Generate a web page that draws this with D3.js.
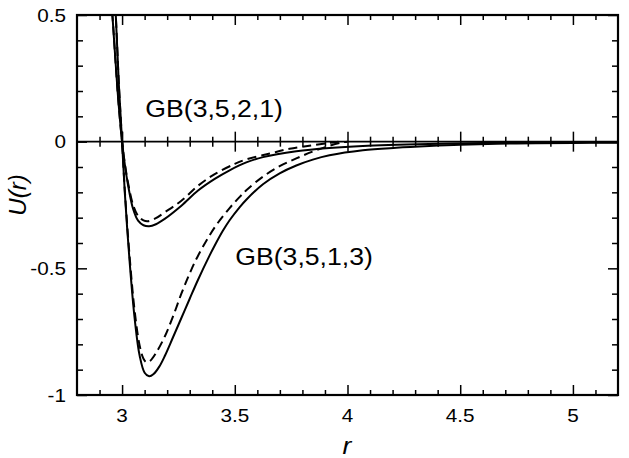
<!DOCTYPE html>
<html>
<head>
<meta charset="utf-8">
<script src="https://cdn.jsdelivr.net/npm/d3@7/dist/d3.min.js"></script>
<style>
  html, body { margin: 0; padding: 0; background: #fff; }
  svg { display: block; }
  text { font-family: "Liberation Sans", Arial, Helvetica, sans-serif; fill: #000; }
</style>
</head>
<body>
<svg id="chart" width="629" height="458"></svg>
<script>
// ---- data ----
const xTickValues = [3, 3.5, 4, 4.5, 5];
const xTickLabels = ["3", "3.5", "4", "4.5", "5"];
const yTickValues = [0.5, 0, -0.5, -1];
const yTickLabels = ["0.5", "0", "-0.5", "-1"];

// GB(3,5,1,3) solid
const rDeepSolid = [2.962, 2.972, 2.986, 3.0, 3.012, 3.034, 3.056, 3.078, 3.10, 3.12, 3.14, 3.165, 3.19, 3.226, 3.263, 3.30, 3.337, 3.389, 3.411, 3.447, 3.477, 3.522, 3.551, 3.625, 3.699, 3.773, 3.846, 3.92, 4.068, 4.216, 4.363, 4.5, 4.75, 5.0, 5.2];
const uDeepSolid = [0.65, 0.5, 0.22, 0.0, -0.20, -0.48, -0.70, -0.845, -0.912, -0.926, -0.917, -0.888, -0.845, -0.772, -0.696, -0.620, -0.545, -0.448, -0.410, -0.352, -0.310, -0.258, -0.229, -0.168, -0.125, -0.094, -0.071, -0.054, -0.034, -0.024, -0.017, -0.012, -0.007, -0.005, -0.004];

// GB(3,5,1,3) dashed
const rDeepDash = [2.962, 2.972, 2.986, 3.0, 3.012, 3.034, 3.056, 3.078, 3.095, 3.108, 3.125, 3.15, 3.189, 3.226, 3.263, 3.30, 3.337, 3.411, 3.477, 3.522, 3.551, 3.625, 3.699, 3.773, 3.846, 3.92, 3.98, 4.0];
const uDeepDash = [0.65, 0.5, 0.22, 0.0, -0.19, -0.46, -0.67, -0.805, -0.857, -0.871, -0.865, -0.835, -0.77, -0.69, -0.60, -0.52, -0.45, -0.338, -0.262, -0.218, -0.192, -0.138, -0.097, -0.066, -0.039, -0.016, -0.002, 0.0];

// GB(3,5,2,1) solid
const rShallowSolid = [2.945, 2.957, 2.98, 3.0, 3.012, 3.027, 3.049, 3.071, 3.095, 3.12, 3.15, 3.189, 3.263, 3.337, 3.411, 3.477, 3.551, 3.625, 3.773, 3.92, 4.068, 4.363, 4.6, 5.0, 5.2];
const uShallowSolid = [0.62, 0.5, 0.2, 0.0, -0.09, -0.174, -0.266, -0.312, -0.33, -0.334, -0.326, -0.305, -0.253, -0.193, -0.147, -0.113, -0.082, -0.061, -0.038, -0.025, -0.017, -0.009, -0.005, -0.003, -0.002];

// GB(3,5,2,1) dashed
const rShallowDash = [2.945, 2.957, 2.98, 3.0, 3.012, 3.027, 3.049, 3.071, 3.095, 3.115, 3.15, 3.189, 3.263, 3.337, 3.411, 3.5, 3.551, 3.655, 3.743, 3.839, 3.92, 3.96];
const uShallowDash = [0.62, 0.5, 0.2, 0.0, -0.085, -0.165, -0.25, -0.293, -0.311, -0.314, -0.302, -0.279, -0.233, -0.174, -0.128, -0.088, -0.070, -0.047, -0.028, -0.015, -0.005, 0.0];

const curveLabels = [
  { text: "GB(3,5,2,1)", r: 3.103, u: 0.096 },
  { text: "GB(3,5,1,3)", r: 3.502, u: -0.488 }
];

// ---- layout ----
const svg = d3.select("#chart");
const L = 77, T = 15, R = 618, B = 395;
const x = d3.scaleLinear().domain([2.8, 5.2]).range([L, R]);
const y = d3.scaleLinear().domain([-1, 0.5]).range([B, T]);

svg.append("defs").append("clipPath").attr("id", "clip")
  .append("rect").attr("x", L).attr("y", T).attr("width", R - L).attr("height", B - T);

const xMinor = d3.range(2.9, 5.2, 0.1).map(v => +v.toFixed(2)).filter(v => Math.abs(v * 2 - Math.round(v * 2)) > 1e-6);
const yMinor = d3.range(-0.9, 0.5, 0.1).map(v => +v.toFixed(2)).filter(v => Math.abs(v * 2 - Math.round(v * 2)) > 1e-6);

function drawAxis(axis, tx, ty) {
  const g = svg.append("g").attr("transform", `translate(${tx},${ty})`).call(axis);
  g.select(".domain").remove();
  g.selectAll("text").remove();
  g.selectAll("line").attr("stroke", "#000").attr("stroke-width", 1.5);
  return g;
}
// bottom
drawAxis(d3.axisTop(x).tickValues(xTickValues).tickSize(10), 0, B);
drawAxis(d3.axisTop(x).tickValues(xMinor).tickSize(5), 0, B);
// top
drawAxis(d3.axisBottom(x).tickValues(xTickValues).tickSize(10), 0, T);
drawAxis(d3.axisBottom(x).tickValues(xMinor).tickSize(5), 0, T);
// zero line crossing ticks
drawAxis(d3.axisTop(x).tickValues(xTickValues).tickSize(10), 0, y(0));
drawAxis(d3.axisBottom(x).tickValues(xTickValues).tickSize(10), 0, y(0));
drawAxis(d3.axisTop(x).tickValues(xMinor).tickSize(5), 0, y(0));
drawAxis(d3.axisBottom(x).tickValues(xMinor).tickSize(5), 0, y(0));
// left
drawAxis(d3.axisRight(y).tickValues(yTickValues).tickSize(10), L, 0);
drawAxis(d3.axisRight(y).tickValues(yMinor).tickSize(6), L, 0);
// right
drawAxis(d3.axisLeft(y).tickValues(yTickValues).tickSize(10), R, 0);
drawAxis(d3.axisLeft(y).tickValues(yMinor).tickSize(6), R, 0);

// zero line
svg.append("line").attr("x1", L).attr("x2", R).attr("y1", y(0)).attr("y2", y(0))
  .attr("stroke", "#000").attr("stroke-width", 1.6);

// curves
const line = d3.line().x(d => x(d[0])).y(d => y(d[1])).curve(d3.curveCatmullRom.alpha(0.5));
const series = [
  { r: rShallowSolid, u: uShallowSolid, dash: null },
  { r: rShallowDash, u: uShallowDash, dash: "9,5" },
  { r: rDeepSolid, u: uDeepSolid, dash: null },
  { r: rDeepDash, u: uDeepDash, dash: "9,5" }
];
const cg = svg.append("g").attr("clip-path", "url(#clip)");
series.forEach(s => {
  cg.append("path").datum(d3.zip(s.r, s.u))
    .attr("d", line).attr("fill", "none").attr("stroke", "#000")
    .attr("stroke-width", 2).attr("stroke-dasharray", s.dash);
});

// frame
svg.append("rect").attr("x", L).attr("y", T).attr("width", R - L).attr("height", B - T)
  .attr("fill", "none").attr("stroke", "#000").attr("stroke-width", 2.2);

// text helper (horizontally widened glyphs as in the reference)
function sText(px, py, str, size, anchor, sx, extra) {
  const g = svg.append("g").attr("transform", `translate(${px},${py}) scale(${sx},1)`);
  const t = g.append("text").attr("x", 0).attr("y", 0).attr("font-size", size)
    .attr("text-anchor", anchor).text(str);
  if (extra) extra(t);
  return t;
}
xTickValues.forEach((v, i) => sText(x(v), 422, xTickLabels[i], 18, "middle", 1.15));
yTickValues.forEach((v, i) => sText(66, y(v) + 6.5, yTickLabels[i], 18, "end", 1.15));

// curve labels
curveLabels.forEach(c => sText(x(c.r), y(c.u), c.text, 24, "start", 1.11));

// axis titles
svg.append("g").attr("transform", `translate(26,195) rotate(-90)`)
  .append("text").attr("text-anchor", "middle").attr("font-size", 24)
  .attr("font-style", "italic").text("U(r)");
sText(347, 454, "r", 24, "middle", 1.1, t => t.attr("font-style", "italic"));
</script>
</body>
</html>
